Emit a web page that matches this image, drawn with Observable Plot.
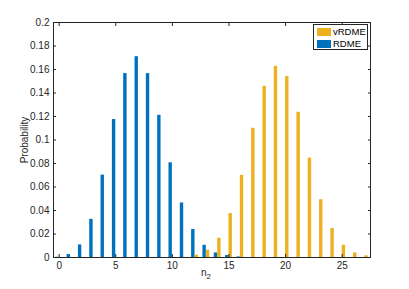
<!DOCTYPE html>
<html><head><meta charset="utf-8">
<script src="https://cdn.jsdelivr.net/npm/d3@7"></script>
<script src="https://cdn.jsdelivr.net/npm/@observablehq/plot@0.6"></script>
<style>
body{margin:0;background:#fff;font-family:"Liberation Sans",Arial,sans-serif;}
#wrap{position:relative;width:409px;height:289px;}
#legend{position:absolute;left:313px;top:24px;width:53px;height:24px;border:1px solid #262626;background:#fff;font-size:9.5px;color:#000;}
#legend .row{display:flex;align-items:center;height:11px;margin-left:3px;margin-top:1px}
#legend .sw{width:14px;height:8px;margin-right:2px}
</style></head><body>
<div id="wrap"></div>
<script>
const n = [0,1,2,3,4,5,6,7,8,9,10,11,12,13,14,15,16,17,18,19,20,21,22,23,24,25,26,27];
const rdme = [0.0002,0.0025,0.0107,0.0325,0.0701,0.1174,0.1565,0.1709,0.1565,0.121,0.0806,0.0464,0.0238,0.0104,0.0039,0.0017,0.0005,0,0,0,0,0,0,0,0,0,0,0];
const vrdme = [0,0,0,0,0,0,0,0,0,0,0,0,0.002,0.0062,0.0164,0.0374,0.0699,0.110,0.1457,0.1627,0.154,0.1236,0.0846,0.0492,0.0246,0.0104,0.0039,0.0014];
const seriesNames = ["vRDME","RDME"];
const colors = ["#EDB120","#0072BD"];
const yTicks = [0,0.02,0.04,0.06,0.08,0.1,0.12,0.14,0.16,0.18,0.2];
const xTicks = [0,5,10,15,20,25];

const data = [];
n.forEach((v,i)=>{
  data.push({n:v, p:rdme[i], s:"RDME", lo:-0.3, hi:0});
  data.push({n:v, p:vrdme[i], s:"vRDME", lo:0, hi:0.3});
});

const chart = Plot.plot({
  width:409, height:289,
  marginLeft:53, marginRight:39, marginTop:22, marginBottom:32,
  style:{fontFamily:"Liberation Sans, Arial, sans-serif", fontSize:"10px", color:"#262626", background:"#fff"},
  x:{domain:[-0.5,27.5]},
  y:{domain:[0,0.2]},
  color:{domain:seriesNames, range:colors},
  marks:[
    Plot.rectY(data.filter(d=>d.p>0), {x1:d=>d.n+d.lo, x2:d=>d.n+d.hi, y1:0, y2:"p", fill:"s"}),
    Plot.axisX({ticks:xTicks, tickSize:-3, tickPadding:7, label:null, stroke:"#262626"}),
    Plot.axisX({anchor:"top", ticks:xTicks, tickSize:-3, tickFormat:()=>"", label:null, stroke:"#262626"}),
    Plot.axisY({ticks:yTicks, tickSize:-3, tickPadding:7, tickFormat:d=>String(+d.toFixed(2)), label:null, stroke:"#262626"}),
    Plot.axisY({anchor:"right", ticks:yTicks, tickSize:-3, tickFormat:()=>"", label:null, stroke:"#262626"}),
    Plot.frame({stroke:"#262626"})
  ]
});
const wrap = document.getElementById("wrap");
wrap.appendChild(chart);

// axis titles
const svg = d3.select(chart);
svg.append("text").attr("x",206).attr("y",276).attr("font-size",10).attr("fill","#262626")
  .html('n<tspan dy="3" font-size="8">2</tspan>');
svg.append("text").attr("transform","translate(28,140) rotate(-90)").attr("text-anchor","middle")
  .attr("font-size",10).attr("fill","#262626").text("Probability");

// legend
const lg = document.createElement("div");
lg.id="legend";
seriesNames.forEach((s,i)=>{
  const r=document.createElement("div"); r.className="row";
  r.innerHTML=`<span class="sw" style="background:${colors[i]}"></span><span>${s}</span>`;
  lg.appendChild(r);
});
wrap.appendChild(lg);
</script>
</body></html>
